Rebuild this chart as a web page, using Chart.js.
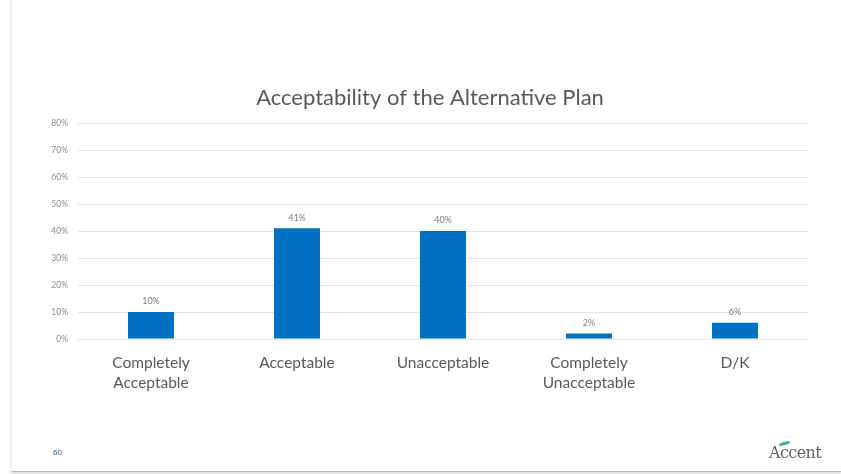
<!DOCTYPE html>
<html lang="en">
<head>
    <meta charset="UTF-8">
    <title>Acceptability of the Alternative Plan</title>
    <style>
        html, body { margin: 0; padding: 0; background: #ffffff; }
        .slide {
            position: relative;
            width: 841px;
            height: 474px;
            overflow: hidden;
        }
        .frame {
            position: absolute;
            left: 11px; top: 0; right: 0; bottom: 2px;
            border-left: 1px solid #f0f0f0;
            border-bottom: 1px solid #b5b5b5;
            box-shadow: 0 1px 2px #d0d0d0;
        }
        #grafico { position: absolute; left: 0; top: 0; }
        .pagina {
            position: absolute; left: 53px; top: 448px;
            font: 8px "Liberation Sans", sans-serif; color: #2f5597;
        }
        .logo {
            position: absolute; left: 769px; top: 443px;
            font: 16px "DejaVu Serif", "Liberation Serif", serif; color: #5f5f5f;
            letter-spacing: -0.6px;
        }
        .logo .marca {
            position: absolute; left: 10px; top: -1px;
            width: 11px; height: 3px; background: #3fa89a;
            border-radius: 3px 1px 3px 1px; transform: rotate(-12deg);
        }
    </style>
</head>
<body>
    <div class="slide">
        <div class="frame"></div>
        <canvas id="grafico" width="841" height="474"></canvas>
        <div class="pagina">60</div>
        <div class="logo"><span class="marca"></span>Accent</div>
    </div>

    <script src="https://cdn.jsdelivr.net/npm/chart.js"></script>
    <script>
        // Dados do gráfico
        const categorias = [
            ['Completely', 'Acceptable'],
            'Acceptable',
            'Unacceptable',
            ['Completely', 'Unacceptable'],
            'D/K'
        ];
        const valores = [10, 41, 40, 2, 6];
        const ticksY = [0, 10, 20, 30, 40, 50, 60, 70, 80];

        const titulo = 'Acceptability of the Alternative Plan';
        const fonte = 'Lato, "Open Sans", sans-serif';

        // rótulos em cima das barras + título (fora do centro do gráfico, como no slide)
        const rotulosBarras = {
            id: 'rotulosBarras',
            afterDatasetsDraw(chart) {
                const ctx = chart.ctx;
                const meta = chart.getDatasetMeta(0);
                ctx.save();
                ctx.font = '9px ' + fonte;
                ctx.fillStyle = '#7f7f7f';
                ctx.textAlign = 'center';
                ctx.textBaseline = 'bottom';
                meta.data.forEach((barra, i) => {
                    ctx.fillText(valores[i] + '%', barra.x, barra.y - 6);
                });

                ctx.font = '22px ' + fonte;
                ctx.fillStyle = '#595959';
                ctx.textBaseline = 'middle';
                ctx.fillText(titulo, 430, 98);
                ctx.restore();
            }
        };

        const ctxBar = document.getElementById('grafico').getContext('2d');

        const grafico = new Chart(ctxBar, {
            type: 'bar',
            data: {
                labels: categorias,
                datasets: [
                    {
                        label: 'Acceptability',
                        data: valores,
                        backgroundColor: '#0070c0',
                        barPercentage: 0.315,
                        categoryPercentage: 1
                    }
                ]
            },
            options: {
                responsive: false,
                maintainAspectRatio: false,
                animation: false,
                layout: {
                    padding: { left: 20, right: 33, top: 123, bottom: 0 }
                },
                plugins: {
                    legend: { display: false },
                    tooltip: { enabled: false },
                    title: { display: false }
                },
                scales: {
                    x: {
                        grid: { display: false },
                        border: { display: false },
                        ticks: {
                            color: '#595959',
                            font: { family: fonte, size: 15.5, lineHeight: 1.29 },
                            padding: 6,
                            maxRotation: 0,
                            autoSkip: false
                        },
                        afterFit: scale => { scale.height = 135; }
                    },
                    y: {
                        min: 0,
                        max: 80,
                        afterBuildTicks: scale => {
                            scale.ticks = ticksY.map(v => ({ value: v }));
                        },
                        grid: { color: '#e3e3e3', lineWidth: 1, drawTicks: false },
                        border: { display: false },
                        ticks: {
                            color: '#8c8c8c',
                            font: { family: fonte, size: 8.5 },
                            padding: 10,
                            callback: v => v + '%'
                        },
                        afterFit: scale => { scale.width = 58; }
                    }
                }
            },
            plugins: [rotulosBarras]
        });
    </script>
</body>
</html>
